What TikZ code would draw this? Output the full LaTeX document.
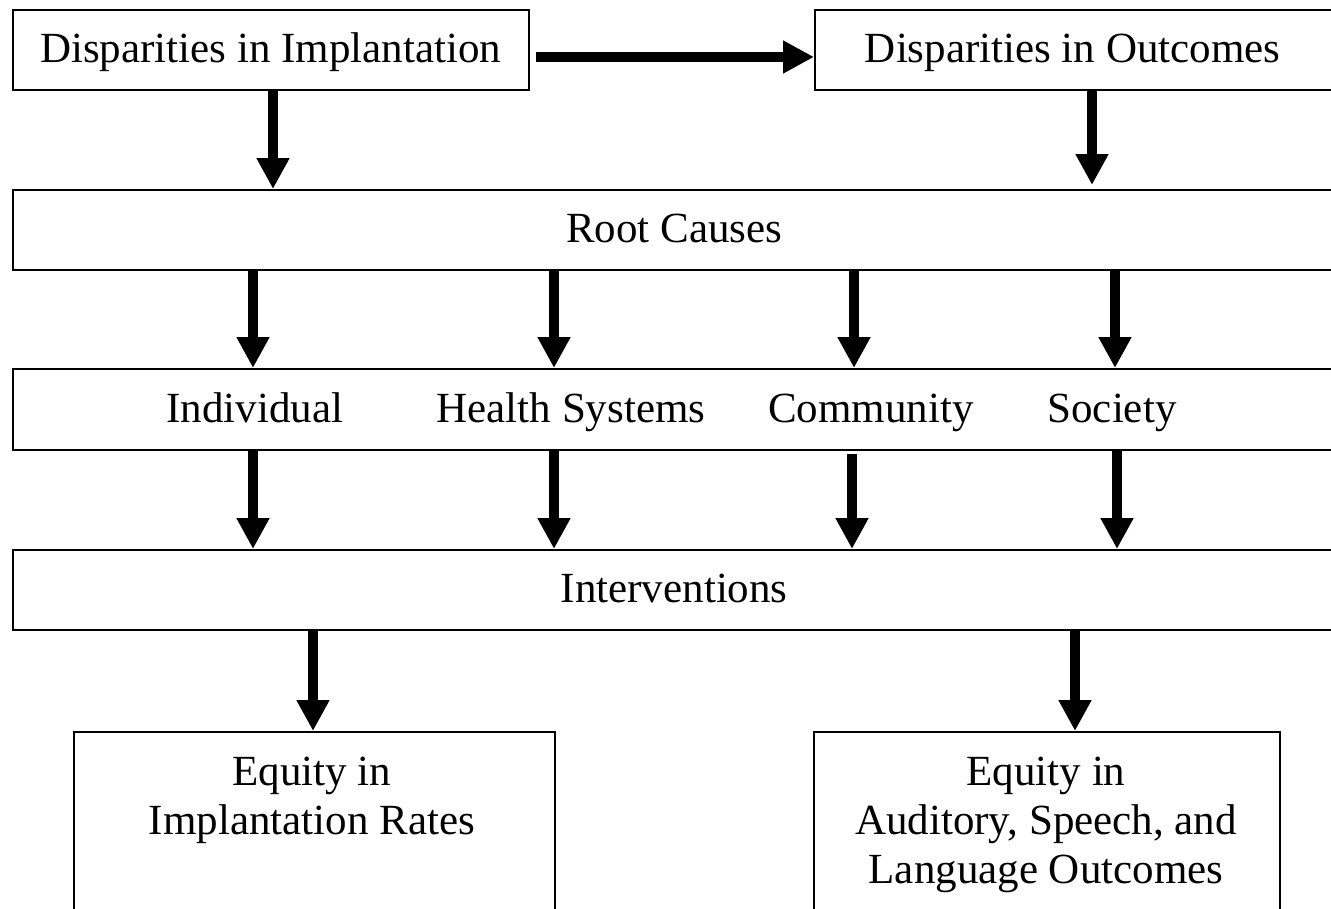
\documentclass[tikz,border=0pt]{standalone}
\usepackage{fontspec}
\setmainfont{Liberation Serif}
\usetikzlibrary{arrows.meta}
\tikzset{
  box/.style={draw, line width=1.5pt, rectangle, inner sep=0pt, anchor=north west,
    font=\fontsize{43pt}{49pt}\selectfont, text height=31pt, text depth=5pt},
  lbl/.style={inner sep=0pt, font=\fontsize{43pt}{49pt}\selectfont, text height=31pt, text depth=5pt},
  mlbl/.style={inner sep=0pt, align=center, anchor=north, font=\fontsize{43pt}{49pt}\selectfont},
  arr/.style={line width=10pt, -{Triangle[length=31pt,width=31pt]}}
}
\begin{document}
\begin{tikzpicture}[x=1pt,y=-1pt]
\path[use as bounding box] (0,0) rectangle (1331,908);
\clip (0,0) rectangle (1331,908);
% boxes
\node[box, minimum width=516pt, minimum height=80pt] (di) at (12,9) {Disparities in Implantation};
\node[box, minimum width=521pt, minimum height=80pt] (do) at (814,9) {\hspace*{-5pt}Disparities in Outcomes};
\node[box, minimum width=1323pt, minimum height=80pt] (root) at (12,189) {Root Causes};
\node[box, minimum width=1323pt, minimum height=81pt] (lev) at (12,368) {};
\node[box, minimum width=1323pt, minimum height=80pt] (int) at (12,549) {Interventions};
\node[box, minimum width=481pt, minimum height=220pt] (eqa) at (73,731) {};
\node[box, minimum width=466pt, minimum height=220pt] (eqb) at (813,731) {};
% level labels
\node[lbl] (ind) at (255,409) {Individual};
\node[lbl] (hs) at (571,409) {Health Systems};
\node[lbl] (com) at (871,409) {Community};
\node[lbl] (soc) at (1112,409) {Society};
% bottom texts
\node[mlbl] (ta) at (312,757) {Equity in\\Implantation Rates};
\node[mlbl] (tb) at (1046,757) {Equity in\\Auditory, Speech, and\\Language Outcomes};
% x positions of arrows
\coordinate (hy) at (0,57);
\coordinate (xa) at (273,0);
\coordinate (xb) at (1092,0);
\coordinate (x1) at (253,0);
\coordinate (x2) at (554,0);
\coordinate (x3) at (854,0);
\coordinate (x4) at (1115,0);
\coordinate (y3) at (852,0);
\coordinate (y4) at (1117,0);
\coordinate (xl) at (313,0);
\coordinate (xr) at (1075,0);
% arrows
\draw[arr] ([xshift=6pt]di.east |- hy) -- (do.west |- hy);
\draw[arr] (di.south -| xa) -- (root.north -| xa);
\draw[arr] (do.south -| xb) -- ([yshift=4pt]root.north -| xb);
\foreach \c in {x1,x2,x3,x4} \draw[arr] (root.south -| \c) -- (lev.north -| \c);
\draw[arr] (lev.south -| x1) -- (int.north -| x1);
\draw[arr] (lev.south -| x2) -- (int.north -| x2);
\draw[arr] ([yshift=-3pt]lev.south -| y3) -- (int.north -| y3);
\draw[arr] (lev.south -| y4) -- (int.north -| y4);
\draw[arr] (int.south -| xl) -- (eqa.north -| xl);
\draw[arr] (int.south -| xr) -- (eqb.north -| xr);
\end{tikzpicture}
\end{document}
